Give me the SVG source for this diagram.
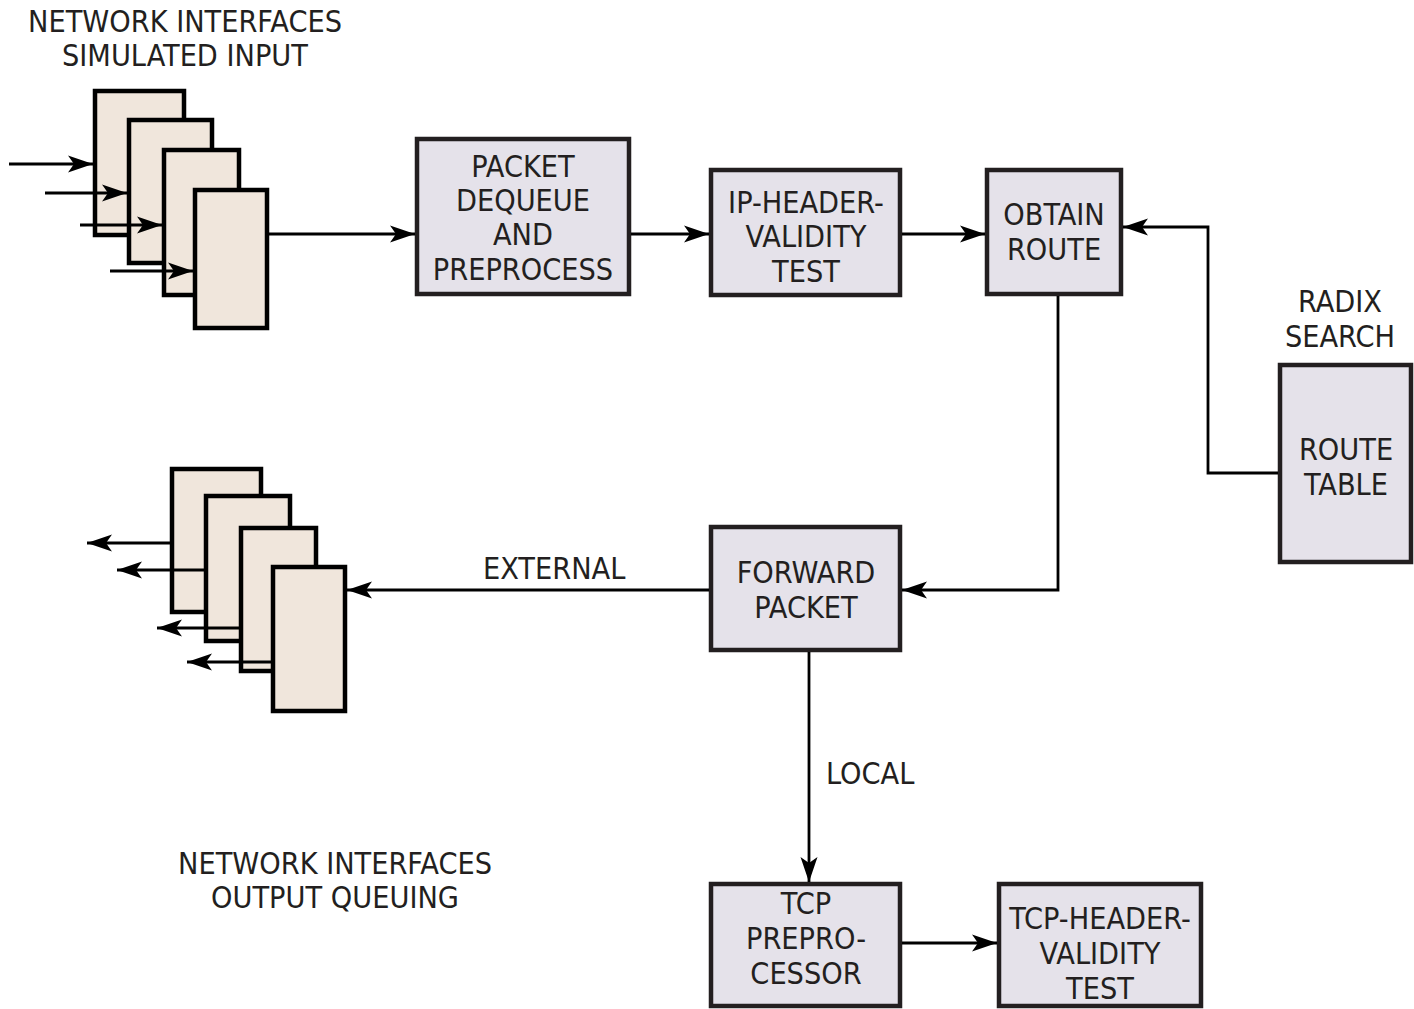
<svg xmlns="http://www.w3.org/2000/svg" width="1414" height="1009" viewBox="0 0 1414 1009">
<defs>
<style>
.box{fill:#e5e2ea;stroke:#231f20;stroke-width:4.5}
.q{fill:#f0e6dc;stroke:#000;stroke-width:4.5}
.ln{fill:none;stroke:#000;stroke-width:2.8}
.arr{marker-end:url(#ah)}
text{font-family:"DejaVu Sans Condensed","Liberation Sans Narrow","Liberation Sans",sans-serif;font-size:30.3px;fill:#231f20;text-anchor:middle}
.l{text-anchor:start}
</style>
<marker id="ah" markerUnits="userSpaceOnUse" markerWidth="30" markerHeight="20" viewBox="-28 -10 30 20" refX="0" refY="0" orient="auto">
<path d="M0,0 L-25,-8.5 L-19,0 L-25,8.5 Z" fill="#000"/>
</marker>
</defs>
<rect width="1414" height="1009" fill="#fff"/>

<g id="input-label">
<text x="185" y="31.5">NETWORK INTERFACES</text>
<text x="185" y="65.5">SIMULATED INPUT</text>
</g>
<g id="input-queues">
<rect class="q" x="95" y="91" width="89" height="144"/>
<rect class="q" x="129" y="120" width="83" height="143"/>
<rect class="q" x="164" y="150" width="75" height="145"/>
<rect class="q" x="195" y="190" width="72" height="138"/>
</g>

<g id="packet-dequeue">
<rect class="box" x="417" y="139" width="212" height="155"/>
<text x="523" y="176.5">PACKET</text>
<text x="523" y="211">DEQUEUE</text>
<text x="523" y="245">AND</text>
<text x="523" y="279.5">PREPROCESS</text>
</g>

<g id="ip-header">
<rect class="box" x="711" y="170" width="189" height="125"/>
<text x="806" y="212.5">IP-HEADER-</text>
<text x="806" y="247">VALIDITY</text>
<text x="806" y="281.5">TEST</text>
</g>

<g id="obtain-route">
<rect class="box" x="987" y="170" width="134" height="124"/>
<text x="1054" y="225">OBTAIN</text>
<text x="1054" y="260">ROUTE</text>
</g>

<g id="route-table">
<text x="1340" y="311.5">RADIX</text>
<text x="1340" y="346.5">SEARCH</text>
<rect class="box" x="1280" y="365" width="131" height="197"/>
<text x="1346" y="460">ROUTE</text>
<text x="1346" y="495">TABLE</text>
</g>

<g id="forward-packet">
<rect class="box" x="711" y="527" width="189" height="123"/>
<text x="806" y="583">FORWARD</text>
<text x="806" y="618">PACKET</text>
</g>

<g id="output-queues">
<rect class="q" x="172" y="469" width="89" height="143"/>
<rect class="q" x="206" y="496" width="84" height="145"/>
<rect class="q" x="241" y="528" width="75" height="143"/>
<rect class="q" x="273" y="567" width="72" height="144"/>
</g>
<g id="output-label">
<text x="335" y="873.5">NETWORK INTERFACES</text>
<text x="335" y="907.5">OUTPUT QUEUING</text>
</g>

<g id="tcp-preprocessor">
<rect class="box" x="711" y="884" width="189" height="122"/>
<text x="806" y="914">TCP</text>
<text x="806" y="949">PREPRO-</text>
<text x="806" y="984">CESSOR</text>
</g>

<g id="tcp-header">
<rect class="box" x="999" y="884" width="202" height="122"/>
<text x="1100" y="929">TCP-HEADER-</text>
<text x="1100" y="964">VALIDITY</text>
<text x="1100" y="999">TEST</text>
</g>

<g id="connectors">
<path class="ln arr" d="M9,164 H93"/>
<path class="ln arr" d="M45,193 H127"/>
<path class="ln arr" d="M80,225 H162"/>
<path class="ln arr" d="M110,271 H193"/>
<path class="ln arr" d="M269,234 H415"/>
<path class="ln arr" d="M631,234 H709"/>
<path class="ln arr" d="M902,234 H985"/>
<path class="ln arr" d="M1278,473 H1208 V227 H1123"/>
<path class="ln arr" d="M1058,296 V590 H902"/>
<path class="ln arr" d="M709,590 H347"/>
<path class="ln arr" d="M170,543 H87"/>
<path class="ln arr" d="M204,570 H117"/>
<path class="ln arr" d="M239,628 H157"/>
<path class="ln arr" d="M271,662 H187"/>
<path class="ln arr" d="M809,652 V882"/>
<path class="ln arr" d="M902,943 H997"/>
<text class="l" x="483" y="578.5">EXTERNAL</text>
<text class="l" x="826" y="784">LOCAL</text>
</g>
</svg>
